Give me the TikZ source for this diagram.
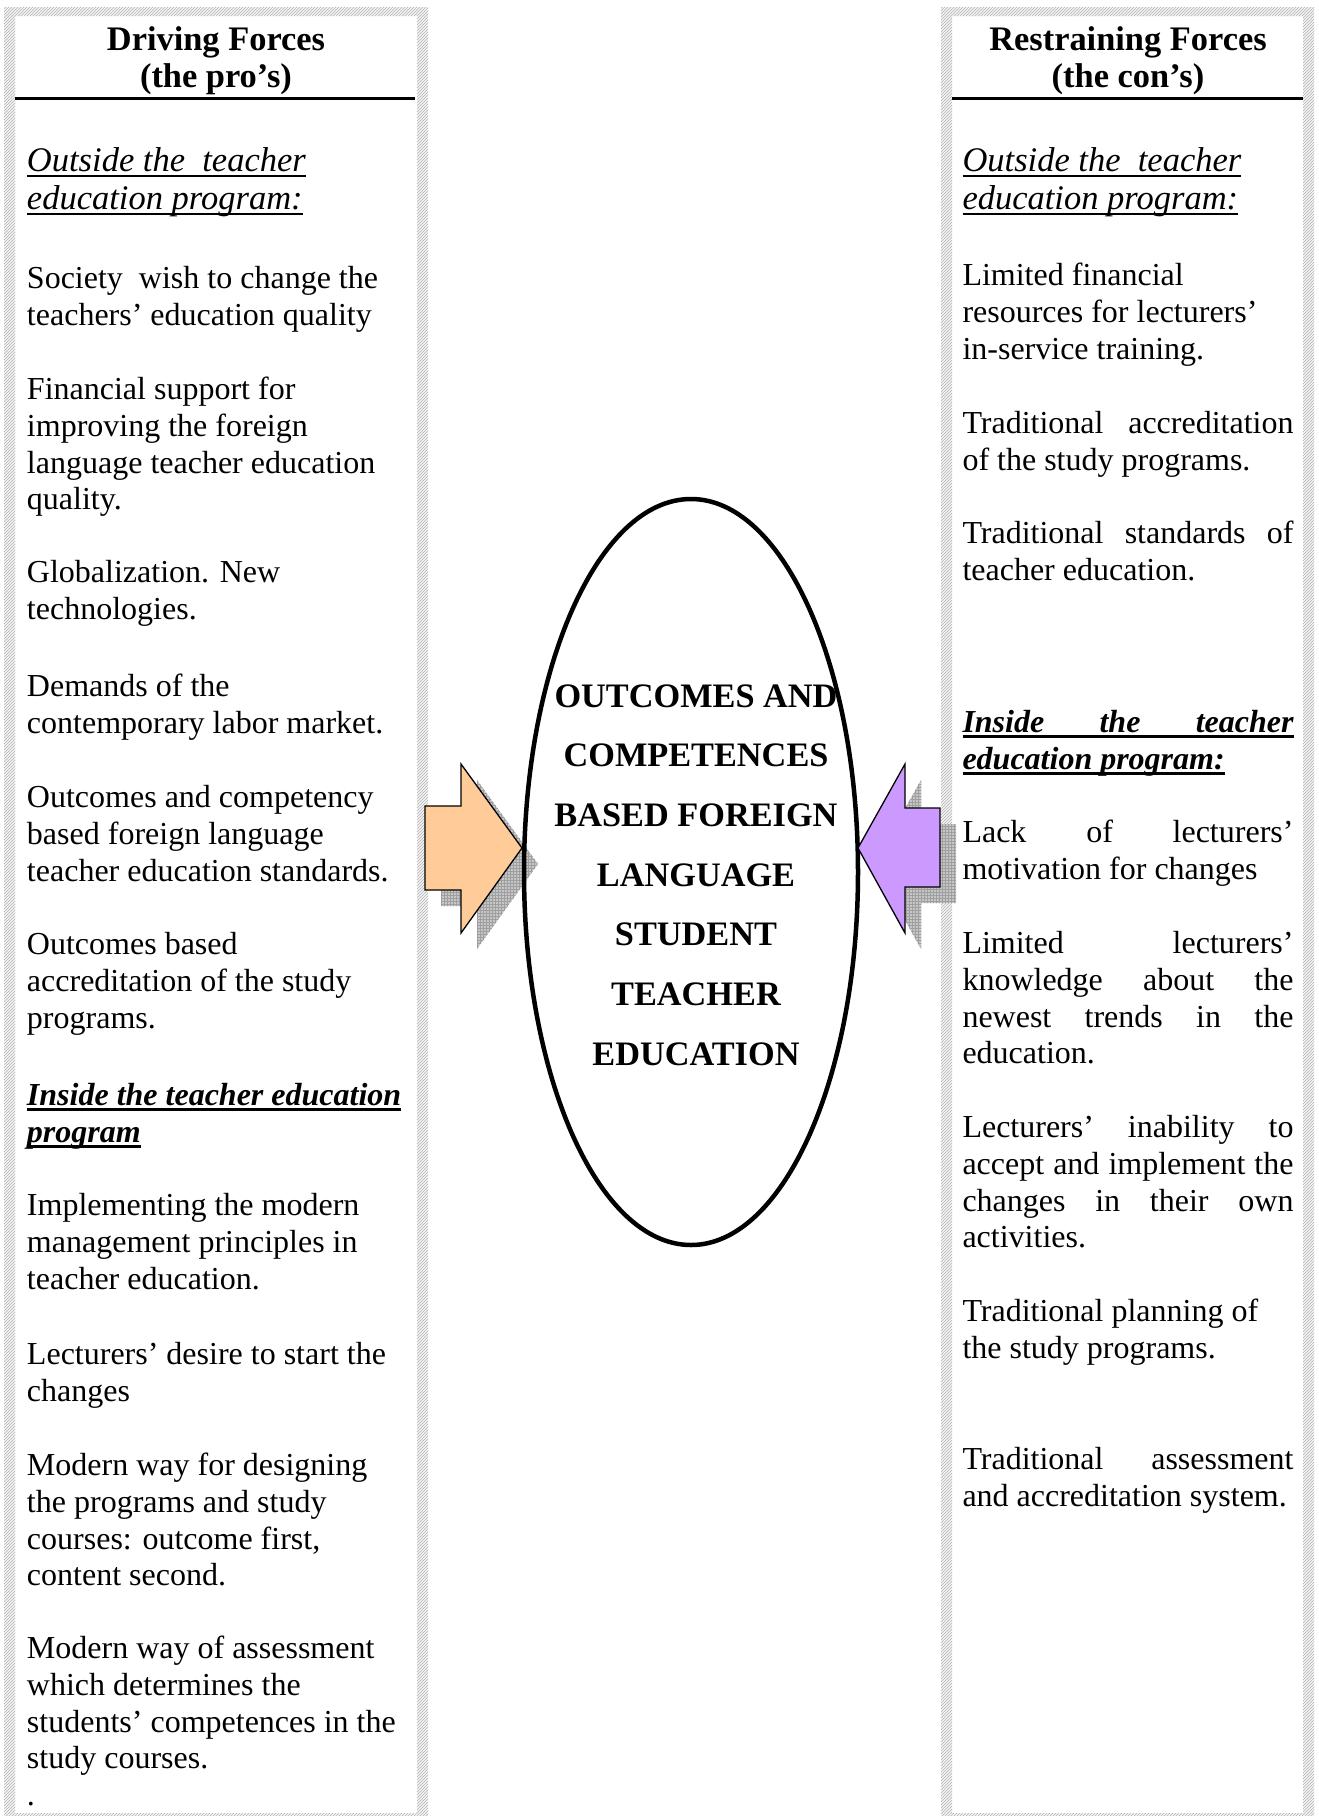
\documentclass[tikz,border=0pt]{standalone}
\usepackage{fontspec}
\setmainfont{Liberation Serif}
\usetikzlibrary{patterns,shapes.geometric}
\definecolor{procol}{HTML}{FFCC99}
\definecolor{concol}{HTML}{CC99FF}
\newlength\colw
\setlength\colw{331pt}
% left-aligned and centred stacks of lines; baseline = first line
\newcommand\lstack[1]{\vtop{\halign{##\hfil\cr#1\crcr}}}
\newcommand\cstack[1]{\vtop{\halign{\hfil##\hfil\cr#1\crcr}}}
% underline at a fixed depth: #1 rule thickness, #2 text
\newcommand\undl[2]{\setbox0=\hbox{#2}\rlap{\rule[-5pt]{\wd0}{#1}}\box0}
% a line spread to the full column width
\newcommand\jline[1]{\makebox[\colw][s]{#1}}
\begin{document}
\begin{tikzpicture}[x=1pt,y=-1pt,
  txt/.style={anchor=base west, inner sep=0pt, outer sep=0pt},
  bodytxt/.style={txt, font=\fontsize{32}{36.8}\selectfont},
  subhead/.style={txt, font=\fontsize{34.5}{38}\selectfont\itshape},
  boldsub/.style={txt, font=\fontsize{32}{37}\selectfont\bfseries\itshape},
  colhead/.style={anchor=base, inner sep=0pt, font=\fontsize{34.4}{37}\selectfont\bfseries},
  hatchframe/.style={even odd rule, fill=gray!8,
    postaction={even odd rule, pattern=north east lines, pattern color=gray!60}},
  shadowfill/.style={fill=gray!45,
    postaction={pattern=grid, pattern color=gray!75}},
  forcearrow/.style={draw=black, line width=1.3pt, line join=miter}]
\useasboundingbox (0,0) rectangle (1318,1816);
\clip (0,0) rectangle (1318,1816);
\fill[white] (0,0) rectangle (1318,1816);

% column frames
\path[hatchframe] (4,7) rectangle (428,1826) (15,16) rectangle (417,1813);
\path[hatchframe] (941,7) rectangle (1314,1826) (952,16) rectangle (1303,1813);

\begin{scope}[shift={(0,1.5)}]
% column headings
\node[colhead] (prohead) at (216,49) {\cstack{Driving Forces\cr (the pro’s)}};
\node[colhead] (conhead) at (1128,49) {\cstack{Restraining Forces\cr (the con’s)}};

% driving forces
\node[subhead] (proout) at (27,170) {\lstack{\undl{2pt}{Outside the\ \ teacher}\cr \undl{2pt}{education program:}}};
\node[bodytxt] (pro1) at (27,287) {\lstack{Society\ \ wish to change the\cr teachers’ education quality}};
\node[bodytxt] (pro2) at (27,398) {\lstack{Financial support for\cr improving the foreign\cr language teacher education\cr quality.}};
\node[bodytxt] (pro3) at (27,581) {\lstack{Globalization. New\cr technologies.}};
\node[bodytxt] (pro4) at (27,695) {\lstack{Demands of the\cr contemporary labor market.}};
\node[bodytxt] (pro5) at (27,806) {\lstack{Outcomes and competency\cr based foreign language\cr teacher education standards.}};
\node[bodytxt] (pro6) at (27,953) {\lstack{Outcomes based\cr accreditation of the study\cr programs.}};
\node[boldsub] (proin) at (27,1104) {\lstack{\undl{3pt}{Inside the teacher education}\cr \undl{3pt}{program}}};
\node[bodytxt] (pro7) at (27,1214) {\lstack{Implementing the modern\cr management principles in\cr teacher education.}};
\node[bodytxt] (pro8) at (27,1363) {\lstack{Lecturers’ desire to start the\cr changes}};
\node[bodytxt] (pro9) at (27,1474) {\lstack{Modern way for designing\cr the programs and study\cr courses: outcome first,\cr content second.}};
\node[bodytxt] (pro10) at (27,1657) {\lstack{Modern way of assessment\cr which determines the\cr students’ competences in the\cr study courses.\cr .}};

% restraining forces
\node[subhead] (conout) at (962.5,170) {\lstack{\undl{2pt}{Outside the\ \ teacher}\cr \undl{2pt}{education program:}}};
\node[bodytxt] (con1) at (962.5,284) {\lstack{Limited financial\cr resources for lecturers’\cr in-service training.}};
\node[bodytxt] (con2) at (962.5,432) {\lstack{\jline{Traditional accreditation}\cr of the study programs.}};
\node[bodytxt] (con3) at (962.5,542) {\lstack{\jline{Traditional standards of}\cr teacher education.}};
\node[boldsub] (conin) at (962.5,731) {\lstack{\undl{3pt}{\jline{Inside the teacher}}\cr \undl{3pt}{education program:}}};
\node[bodytxt] (con4) at (962.5,841) {\lstack{\jline{Lack of lecturers’}\cr motivation for changes}};
\node[bodytxt] (con5) at (962.5,952) {\lstack{\jline{Limited lecturers’}\cr \jline{knowledge about the}\cr \jline{newest trends in the}\cr education.}};
\node[bodytxt] (con6) at (962.5,1136) {\lstack{\jline{Lecturers’ inability to}\cr \jline{accept and implement the}\cr \jline{changes in their own}\cr activities.}};
\node[bodytxt] (con7) at (962.5,1320) {\lstack{Traditional planning of\cr the study programs.}};
\node[bodytxt] (con8) at (962.5,1468) {\lstack{\jline{Traditional assessment}\cr and accreditation system.}};
\end{scope}

% heading rules
\draw[line width=3pt] (15,98) -- (415,98);
\draw[line width=3pt] (952,98) -- (1303,98);

% arrow shadows
\path[shadowfill, shift={(16,16)}] (425,806) -- (461,806) -- (461,764) -- (522,848) -- (461,933) -- (461,890) -- (425,890) -- cycle;
\path[shadowfill, shift={(16,16)}] (940,808) -- (905,808) -- (905,764) -- (858,848) -- (905,933) -- (905,887) -- (940,887) -- cycle;

% central oval
\node[draw, ellipse, line width=4.5pt, minimum width=334pt, minimum height=746pt, inner sep=0pt] (core) at (691,872) {};

% driving and restraining arrows
\draw[forcearrow, fill=procol] (425,806) -- (461,806) -- (461,764) -- (522,848) -- (461,933) -- (461,890) -- (425,890) -- cycle;
\draw[forcearrow, fill=concol] (940,808) -- (905,808) -- (905,764) -- (858,848) -- (905,933) -- (905,887) -- (940,887) -- cycle;

\node[anchor=base, inner sep=0pt, font=\fontsize{34.3}{59.7}\selectfont\bfseries] (coretext) at (696,707)
  {\cstack{OUTCOMES AND\cr COMPETENCES\cr BASED FOREIGN\cr LANGUAGE\cr STUDENT\cr TEACHER\cr EDUCATION}};
\end{tikzpicture}
\end{document}
